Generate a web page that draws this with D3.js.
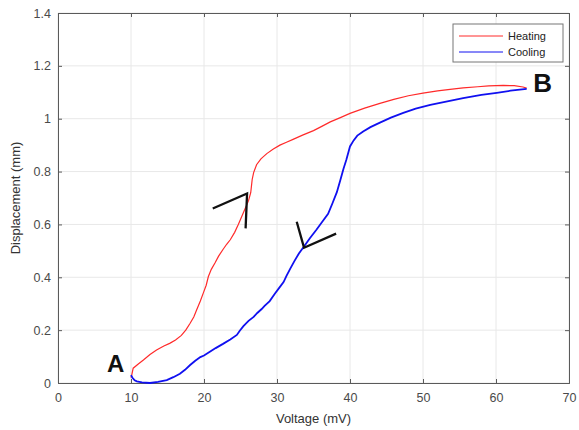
<!DOCTYPE html>
<html>
<head>
<meta charset="utf-8">
<script src="https://cdn.jsdelivr.net/npm/d3@7"></script>
<style>
  html,body{margin:0;padding:0;background:#fff;}
  svg{display:block;font-family:"Liberation Sans",Arial,sans-serif;}
</style>
</head>
<body>
<div id="chart"></div>
<script>
// ---- data ----
const xTicks = [0,10,20,30,40,50,60,70];
const yTicks = [0,0.2,0.4,0.6,0.8,1,1.2,1.4];
const yTickLabels = ["0","0.2","0.4","0.6","0.8","1","1.2","1.4"];

const heatingV = [10.0,10.1,10.3,11.0,11.7,12.6,13.5,14.5,15.3,16.1,16.9,17.5,18.1,18.6,19.0,19.5,19.9,20.3,20.6,21.0,21.5,22.0,22.6,23.1,23.6,24.2,24.7,25.2,25.7,26.1,26.4,26.5,26.6,26.8,27.2,27.8,28.6,29.5,30.4,31.3,32.2,33.5,35.0,36.2,37.3,38.6,40.0,42.0,44.1,46.0,48.0,50.0,52.0,54.0,55.5,57.5,59.0,61.0,62.5,63.7,64.2];
const heatingD = [0.02,0.03,0.056,0.072,0.087,0.108,0.125,0.14,0.15,0.163,0.18,0.2,0.226,0.25,0.277,0.31,0.34,0.37,0.403,0.43,0.454,0.48,0.505,0.525,0.542,0.57,0.6,0.632,0.664,0.69,0.72,0.745,0.77,0.796,0.826,0.848,0.868,0.885,0.9,0.911,0.922,0.938,0.955,0.972,0.988,1.003,1.02,1.04,1.058,1.073,1.087,1.097,1.105,1.112,1.117,1.121,1.124,1.126,1.125,1.12,1.116];

const coolingV = [64.2,62.0,60.1,58.0,55.5,53.0,51.0,49.0,47.3,45.6,44.1,42.8,41.8,41.0,40.5,40.0,39.8,39.5,39.1,38.7,38.2,37.6,37.0,36.2,35.4,34.5,33.8,33.0,32.4,31.8,31.3,30.9,30.3,29.7,29.0,28.3,27.9,27.3,26.8,26.1,25.4,24.9,24.5,23.6,22.6,21.6,20.8,20.0,19.5,18.8,18.1,17.4,16.7,15.8,14.9,13.7,12.6,11.5,10.8,10.5,10.2,10.0];
const coolingD = [1.113,1.106,1.098,1.09,1.078,1.064,1.052,1.038,1.022,1.004,0.985,0.968,0.952,0.936,0.918,0.895,0.875,0.845,0.81,0.77,0.722,0.68,0.64,0.61,0.58,0.548,0.52,0.49,0.462,0.432,0.405,0.382,0.36,0.338,0.31,0.292,0.28,0.265,0.25,0.235,0.215,0.198,0.182,0.165,0.148,0.132,0.118,0.104,0.098,0.084,0.068,0.05,0.035,0.022,0.011,0.004,0.0,0.002,0.006,0.01,0.02,0.03];

// arrow annotations (data coordinates)
const heatArrow = [[21.2,0.66],[25.9,0.717],[25.7,0.585]];
const coolArrow = [[32.7,0.61],[33.7,0.512],[38.1,0.565]];

const seriesNames = ["Heating","Cooling"];
const seriesColors = ["#ff2a2a","#1010f0"];

// ---- layout ----
const W = 579, H = 430;
const m = {left:58, right:10, top:13, bottom:47};
const svg = d3.select("#chart").append("svg").attr("width",W).attr("height",H);

const x = d3.scaleLinear().domain([0,70]).range([m.left, W-m.right]);
const y = d3.scaleLinear().domain([0,1.4]).range([H-m.bottom, m.top]);

// grid
const g = svg.append("g");
g.selectAll(".gx").data(xTicks).join("line")
  .attr("x1",d=>x(d)).attr("x2",d=>x(d)).attr("y1",y(0)).attr("y2",y(1.4))
  .attr("stroke","#e8e8e8").attr("stroke-width",1);
g.selectAll(".gy").data(yTicks).join("line")
  .attr("y1",d=>y(d)).attr("y2",d=>y(d)).attr("x1",x(0)).attr("x2",x(70))
  .attr("stroke","#e8e8e8").attr("stroke-width",1);

// axes
const axCol = "#5a5a5a";
const xAxis = svg.append("g").attr("transform",`translate(0,${y(0)})`)
  .call(d3.axisBottom(x).tickValues(xTicks).tickSize(-4).tickPadding(10).tickFormat(d3.format("d")));
const yAxis = svg.append("g").attr("transform",`translate(${x(0)},0)`)
  .call(d3.axisLeft(y).tickValues(yTicks).tickSize(-4).tickPadding(7).tickFormat((d,i)=>yTickLabels[i]));
const xTop = svg.append("g").attr("transform",`translate(0,${y(1.4)})`)
  .call(d3.axisTop(x).tickValues(xTicks).tickSize(-4).tickFormat(""));
const yRight = svg.append("g").attr("transform",`translate(${x(70)},0)`)
  .call(d3.axisRight(y).tickValues(yTicks).tickSize(-4).tickFormat(""));
[xAxis,yAxis,xTop,yRight].forEach(a=>{
  a.select(".domain").attr("stroke",axCol);
  a.selectAll(".tick line").attr("stroke",axCol);
  a.selectAll(".tick text").attr("fill","#4a4a4a").attr("font-size",12.5)
   .attr("font-family","'Liberation Sans',Arial,sans-serif");
});

// curves
const line = d3.line().x(d=>x(d[0])).y(d=>y(d[1]));
const heat = heatingV.map((v,i)=>[v,heatingD[i]]);
const cool = coolingV.map((v,i)=>[v,coolingD[i]]);
svg.append("path").datum(heat).attr("d",line).attr("fill","none")
  .attr("stroke",seriesColors[0]).attr("stroke-width",1.2);
svg.append("path").datum(cool).attr("d",line).attr("fill","none")
  .attr("stroke",seriesColors[1]).attr("stroke-width",1.8);

// arrows
[heatArrow,coolArrow].forEach(a=>{
  svg.append("path").datum(a).attr("d",line).attr("fill","none")
    .attr("stroke","#111").attr("stroke-width",2.3);
});

// point labels
svg.append("text").attr("x",x(6.7)).attr("y",y(0.042)).text("A")
  .attr("font-size",24).attr("font-weight","bold").attr("fill","#111");
svg.append("text").attr("x",x(65.1)).attr("y",y(1.102)).text("B")
  .attr("font-size",26).attr("font-weight","bold").attr("fill","#111");

// axis titles
svg.append("text").attr("x",(x(0)+x(70))/2).attr("y",H-7).attr("text-anchor","middle")
  .attr("font-size",13).attr("fill","#333").text("Voltage (mV)");
svg.append("text").attr("transform",`translate(20,${(y(0)+y(1.4))/2}) rotate(-90)`)
  .attr("text-anchor","middle").attr("font-size",13).attr("fill","#333").text("Displacement (mm)");

// legend
const lg = svg.append("g").attr("transform","translate(453,24)");
lg.append("rect").attr("width",110).attr("height",38).attr("fill","#fff").attr("stroke","#777");
seriesNames.forEach((n,i)=>{
  const yy = 12 + i*16;
  lg.append("line").attr("x1",6).attr("x2",50).attr("y1",yy).attr("y2",yy)
    .attr("stroke",seriesColors[i]).attr("stroke-width",1);
  lg.append("text").attr("x",55).attr("y",yy+4).attr("font-size",11).attr("fill","#222").text(n);
});
</script>
</body>
</html>
